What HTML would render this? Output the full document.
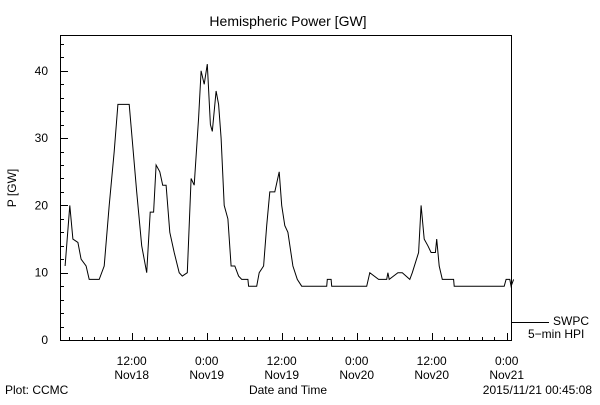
<!DOCTYPE html>
<html><head><meta charset="utf-8"><style>
body{margin:0;background:#fff;width:600px;height:400px;overflow:hidden}
svg text{font-family:"Liberation Sans",sans-serif;font-size:12px;fill:#000}
</style></head><body>
<svg width="600" height="400">
<text x="288" y="26" text-anchor="middle" font-size="14" style="font-size:14px">Hemispheric Power [GW]</text>
<rect x="60.5" y="35.5" width="451" height="305" fill="none" stroke="#000"/>
<g id="yaxis"></g>
<g id="xaxis"></g>
<text transform="translate(16,188) rotate(-90)" text-anchor="middle">P [GW]</text>
<text x="288" y="394" text-anchor="middle">Date and Time</text>
<text x="5" y="394">Plot: CCMC</text>
<text x="592" y="394" text-anchor="end">2015/11/21 00:45:08</text>
<line x1="512" y1="322.5" x2="549" y2="322.5" stroke="#000"/>
<text x="553" y="325">SWPC</text>
<text x="528" y="338">5−min HPI</text>
<polyline id="series" fill="none" stroke="#000" stroke-width="1"/>
</svg>
<script>
const hours=[1.35,2.1,2.6,3.4,3.9,4.7,5.2,6.8,7.6,8.4,9.2,9.8,11.6,12.8,13.6,14.4,14.96,15.5,15.9,16.5,16.96,17.5,18.1,18.8,19.6,20.1,20.9,21.5,22.0,22.7,23.1,23.6,24.1,24.6,24.9,25.5,25.9,26.3,26.8,27.4,27.9,28.5,29.1,29.6,30.6,30.7,32.0,32.4,33.1,33.6,34.1,34.9,35.6,36.0,36.5,37.0,37.8,38.5,39.2,43.2,43.3,43.9,44.0,44.6,49.6,50.1,51.5,52.8,53.0,53.2,54.6,55.3,56.5,56.9,57.9,58.3,58.8,59.4,59.9,60.6,60.8,61.2,61.7,63.5,63.6,71.6,71.9,72.5,72.7,73.1];
const values=[11,20,15,14.5,12,11,9,9,11,20,28,35,35,22,14,10,19,19,26,25,23,23,16,13,10,9.5,10,24,23,33,40,38,41,32,31,37,35,30,20,18,11,11,9.5,9,9,8,8,10,11,17,22,22,25,20,17,16,11,9,8,8,9,9,8,8,8,10,9,9,10,9,10,10,9,10,13,20,15,14,13,13,15,11,9,9,8,8,9,9,8,9];
const yTicks=[0,10,20,30,40];
const xTickHours=[12,24,36,48,60,72];
const xTickTimes=["12:00","0:00","12:00","0:00","12:00","0:00"];
const xTickDays=["Nov18","Nov19","Nov19","Nov20","Nov20","Nov21"];
const ns="http://www.w3.org/2000/svg";
const X=h=>131.7+(h-12)*6.25;
const Y=v=>340-v*6.73;
const yg=document.getElementById('yaxis'),xg=document.getElementById('xaxis');
function mk(tag,attrs,parent){const e=document.createElementNS(ns,tag);for(const k in attrs)e.setAttribute(k,attrs[k]);parent.appendChild(e);return e;}
for(let v=0;v<=45;v+=2){const y=Math.round(Y(v))+0.5;const major=v%10===0;
 const t=mk('line',{x1:60,y1:y,x2:60+(major?8:4),y2:y,stroke:'#000'},yg);
 
 }
yTicks.forEach(v=>{const t=mk('text',{x:48,y:Y(v)+4,'text-anchor':'end'},yg);t.textContent=v;
 
 });
for(let h=2;h<=72;h+=2){const x=Math.round(X(h))+0.5;const major=h%12===0;
 const t=mk('line',{x1:x,y1:341,x2:x,y2:341-(major?8:4),stroke:'#000'},xg);
 
 }
xTickHours.forEach((h,i)=>{const a=mk('text',{x:X(h),y:365,'text-anchor':'middle'},xg);a.textContent=xTickTimes[i];
 
 
 const b=mk('text',{x:X(h),y:379,'text-anchor':'middle'},xg);b.textContent=xTickDays[i];
 
 });
document.getElementById('series').setAttribute('points',hours.map((h,i)=>X(h).toFixed(1)+','+Y(values[i]).toFixed(1)).join(' '));
</script>
</body></html>
